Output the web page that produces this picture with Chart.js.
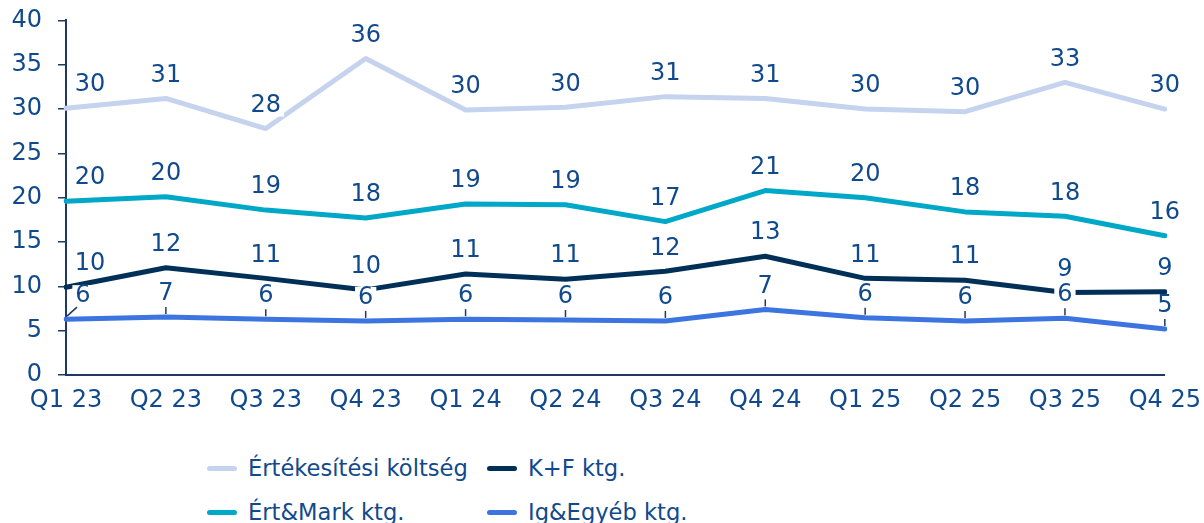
<!DOCTYPE html>
<html lang="hu">
<head>
    <meta charset="UTF-8">
    <title>Költségek negyedévente</title>
    <script src="https://cdn.jsdelivr.net/npm/chart.js"></script>
    <style>
        body { margin: 0; background: #fff; font-family: "DejaVu Sans", Verdana, sans-serif; overflow: hidden; }
        .wrap { position: relative; width: 1204px; height: 523px; overflow: hidden; }
        .chart-box { position: absolute; left: 0; top: -10px; width: 1212px; height: 450px; }
        .legend {
            position: absolute; left: 207px; top: 446px;
            display: grid; grid-auto-flow: column; grid-template-rows: 44px 44px;
            grid-template-columns: 280px auto;
            color: #104a8c; font-size: 22.6px;
        }
        .legend-item { display: flex; align-items: center; white-space: nowrap; }
        .swatch { width: 30px; height: 5px; border-radius: 3px; margin-right: 11px; }
    </style>
</head>
<body>
    <div class="wrap">
        <div class="chart-box"><canvas id="costChart" width="1212" height="450"></canvas></div>
        <div class="legend" id="legend"></div>
    </div>

    <script>
        // Data
        const quarters = ['Q1 23', 'Q2 23', 'Q3 23', 'Q4 23', 'Q1 24', 'Q2 24', 'Q3 24', 'Q4 24', 'Q1 25', 'Q2 25', 'Q3 25', 'Q4 25'];
        const ertekesitesi = [30.1, 31.2, 27.8, 35.7, 29.9, 30.2, 31.4, 31.2, 30.0, 29.7, 33.0, 30.0];
        const ertMark = [19.6, 20.1, 18.6, 17.7, 19.3, 19.2, 17.3, 20.8, 20.0, 18.4, 17.9, 15.7];
        const kf = [9.9, 12.1, 10.9, 9.6, 11.4, 10.8, 11.7, 13.4, 10.9, 10.7, 9.3, 9.4];
        const igEgyeb = [6.3, 6.55, 6.3, 6.1, 6.3, 6.2, 6.1, 7.4, 6.45, 6.1, 6.4, 5.2];

        const textColor = '#104a8c';
        const axisColor = '#1f3864';

        Chart.defaults.font.family = '"DejaVu Sans", Verdana, sans-serif';
        Chart.defaults.font.size = 24;
        Chart.defaults.color = textColor;

        const datasets = [
            { label: 'Értékesítési költség', data: ertekesitesi, borderColor: '#c5d3ee' },
            { label: 'Ért&Mark ktg.', data: ertMark, borderColor: '#00a8c8' },
            { label: 'K+F ktg.', data: kf, borderColor: '#003057' },
            { label: 'Ig&Egyéb ktg.', data: igEgyeb, borderColor: '#3c74e0', leader: true }
        ].map(d => Object.assign(d, {
            borderWidth: 5,
            pointRadius: 0,
            tension: 0,
            borderCapStyle: 'round',
            borderJoinStyle: 'round'
        }));

        // value labels above each point, white box behind like the original
        const pointLabels = {
            id: 'pointLabels',
            afterDatasetsDraw(chart) {
                const ctx = chart.ctx;
                ctx.save();
                ctx.font = '24px "DejaVu Sans", Verdana, sans-serif';
                ctx.textAlign = 'center';
                ctx.textBaseline = 'middle';
                chart.data.datasets.forEach((ds, di) => {
                    const meta = chart.getDatasetMeta(di);
                    meta.data.forEach((pt, i) => {
                        const txt = String(Math.round(ds.data[i]));
                        const x = pt.x + (i === 0 ? (ds.leader ? 17 : 24) : 0);
                        const y = pt.y - 23;
                        const w = ctx.measureText(txt).width;
                        ctx.fillStyle = '#fff';
                        ctx.fillRect(x - w / 2 - 3, y - 11, w + 6, 22);
                        if (ds.leader) {
                            ctx.strokeStyle = axisColor;
                            ctx.lineWidth = 1.5;
                            ctx.beginPath();
                            if (i === 0) {
                                ctx.moveTo(x - 6, y + 11);
                                ctx.lineTo(pt.x + 1, pt.y - 3);
                            } else {
                                ctx.moveTo(x, y + 13);
                                ctx.lineTo(x, pt.y - 3);
                            }
                            ctx.stroke();
                        }
                        ctx.fillStyle = textColor;
                        ctx.fillText(txt, x, y);
                    });
                });
                ctx.restore();
            }
        };

        new Chart(document.getElementById('costChart'), {
            type: 'line',
            data: { labels: quarters, datasets: datasets },
            plugins: [pointLabels],
            options: {
                responsive: false,
                animation: false,
                layout: { padding: { top: 9, right: 30, left: 0, bottom: 0 } },
                plugins: { legend: { display: false }, tooltip: { enabled: false } },
                scales: {
                    x: {
                        offset: false,
                        grid: { drawOnChartArea: false, drawTicks: false },
                        border: { display: true, color: axisColor, width: 2 },
                        ticks: { padding: 11, color: textColor, maxRotation: 0, autoSkip: false },
                        afterFit: s => { s.height = 65; }
                    },
                    y: {
                        min: 0,
                        max: 40,
                        grid: { drawOnChartArea: false, drawTicks: true, tickLength: 8, color: axisColor, lineWidth: 1.5 },
                        border: { display: true, color: axisColor, width: 2 },
                        ticks: { stepSize: 5, padding: 16, color: textColor },
                        afterFit: s => { s.width = 66; }
                    }
                }
            }
        });

        // legend built from the same datasets, two columns
        const legendEl = document.getElementById('legend');
        datasets.forEach(ds => {
            const item = document.createElement('div');
            item.className = 'legend-item';
            item.innerHTML = '<span class="swatch" style="background:' + ds.borderColor + '"></span>';
            item.appendChild(document.createTextNode(ds.label));
            legendEl.appendChild(item);
        });
    </script>
</body>
</html>
